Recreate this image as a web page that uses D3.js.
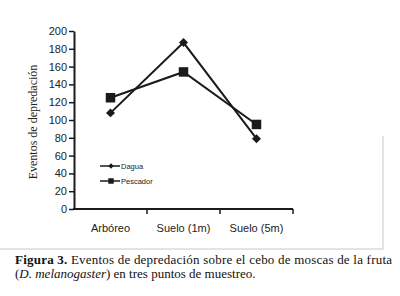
<!DOCTYPE html>
<html>
<head>
<meta charset="utf-8">
<script src="https://cdn.jsdelivr.net/npm/d3@7"></script>
<style>
  body { margin: 0; background: #fff; }
  svg { display: block; }
</style>
</head>
<body>
<div id="chart"></div>
<script>
// Data
var categories = ["Arbóreo", "Suelo (1m)", "Suelo (5m)"];
var dagua = [108, 187, 79];
var pescador = [125, 154, 95];
var yTicks = [0, 20, 40, 60, 80, 100, 120, 140, 160, 180, 200];

var W = 400, H = 296;
var svg = d3.select("#chart").append("svg")
    .attr("width", W)
    .attr("height", H);

// Scales
var x = d3.scaleBand().domain(categories).range([74, 293]);
var y = d3.scaleLinear().domain([0, 200]).range([209, 31]);

// Gray frame corner
svg.append("path")
   .attr("d", "M383,136 V249 H0")
   .attr("fill", "none")
   .attr("stroke", "#c8c8c8")
   .attr("stroke-width", 1);

// Y axis
var yAxis = svg.append("g")
   .attr("transform", "translate(74,0)")
   .call(d3.axisLeft(y).tickValues(yTicks).tickSize(5).tickSizeOuter(0));
yAxis.select(".domain").attr("stroke", "#1a1a1a").attr("stroke-width", 2);
yAxis.selectAll(".tick line").attr("stroke", "#1a1a1a").attr("stroke-width", 1.5);
yAxis.selectAll(".tick text")
   .attr("x", -7)
   .style("font", "11px 'Liberation Sans', Arial, sans-serif")
   .attr("fill", "#222");

// X axis: ticks between categories
var xAxis = svg.append("g").attr("transform", "translate(0,209)");
xAxis.append("line")
   .attr("x1", 73).attr("x2", x.range()[1])
   .attr("stroke", "#1a1a1a").attr("stroke-width", 2);
var bounds = categories.map(function(c) { return x(c) + x.bandwidth(); });
xAxis.selectAll(".xt").data(bounds).enter().append("line")
   .attr("x1", function(d) { return d; })
   .attr("x2", function(d) { return d; })
   .attr("y1", 0).attr("y2", 5)
   .attr("stroke", "#1a1a1a").attr("stroke-width", 1.5);
xAxis.selectAll(".xl").data(categories).enter().append("text")
   .attr("x", function(d) { return x(d) + x.bandwidth() / 2; })
   .attr("y", 23)
   .attr("text-anchor", "middle")
   .style("font", "11px 'Liberation Sans', Arial, sans-serif")
   .attr("fill", "#222")
   .text(function(d) { return d; });

// Y label
svg.append("text")
   .attr("transform", "translate(37,122) rotate(-90)")
   .attr("text-anchor", "middle")
   .style("font", "12px 'Liberation Serif', 'Times New Roman', serif")
   .attr("fill", "#222")
   .text("Eventos de depredación");

// Lines
var cx = function(d, i) { return x(categories[i]) + x.bandwidth() / 2; };
var line = d3.line().x(cx).y(function(d) { return y(d); });

[pescador, dagua].forEach(function(s) {
    svg.append("path")
       .datum(s)
       .attr("d", line)
       .attr("fill", "none")
       .attr("stroke", "#1a1a1a")
       .attr("stroke-width", 2);
});

// Markers (diamond = square turned 45 degrees)
var diamond = d3.symbol().type(d3.symbolSquare).size(40);
var square = d3.symbol().type(d3.symbolSquare).size(90);

svg.selectAll(".dag").data(dagua).enter().append("path")
   .attr("d", diamond)
   .attr("transform", function(d, i) { return "translate(" + cx(d, i) + "," + y(d) + ") rotate(45)"; })
   .attr("fill", "#1a1a1a");
svg.selectAll(".pes").data(pescador).enter().append("path")
   .attr("d", square)
   .attr("transform", function(d, i) { return "translate(" + cx(d, i) + "," + y(d) + ")"; })
   .attr("fill", "#1a1a1a");

// Legend
var legend = [
    { name: "Dagua", sym: d3.symbol().type(d3.symbolSquare).size(14), rot: 45, y: 166 },
    { name: "Pescador", sym: d3.symbol().type(d3.symbolSquare).size(30), rot: 0, y: 181 }
];
var lg = svg.selectAll(".lg").data(legend).enter().append("g")
   .attr("transform", function(d) { return "translate(100," + d.y + ")"; });
lg.append("line").attr("x1", 0).attr("x2", 20)
   .attr("stroke", "#1a1a1a").attr("stroke-width", 1.5);
lg.append("path").attr("d", function(d) { return d.sym(); })
   .attr("transform", function(d) { return "translate(11,0) rotate(" + d.rot + ")"; })
   .attr("fill", "#1a1a1a");
lg.append("text").attr("x", 21).attr("y", 3)
   .style("font", "7.5px 'Liberation Sans', Arial, sans-serif")
   .attr("fill", "#222")
   .text(function(d) { return d.name; });

// Caption
var capFont = "13px 'Liberation Serif', 'Times New Roman', serif";
var cap1 = svg.append("text")
   .attr("x", 15).attr("y", 264)
   .attr("textLength", 377)
   .attr("lengthAdjust", "spacing")
   .style("font", capFont)
   .attr("fill", "#111");
cap1.append("tspan").attr("font-weight", "bold").text("Figura 3.");
cap1.append("tspan").text(" Eventos de depredación sobre el cebo de moscas de la fruta");

var cap2 = svg.append("text")
   .attr("x", 15).attr("y", 278)
   .style("font", capFont)
   .attr("fill", "#111");
cap2.append("tspan").text("(");
cap2.append("tspan").attr("font-style", "italic").text("D. melanogaster");
cap2.append("tspan").text(") en tres puntos de muestreo.");
</script>
</body>
</html>
